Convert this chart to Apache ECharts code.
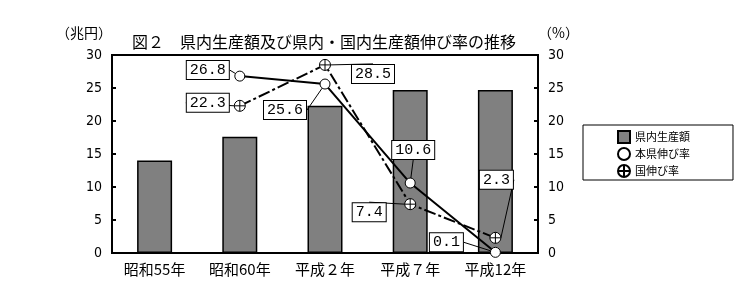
<!DOCTYPE html>
<html><head><meta charset="utf-8">
<script src="https://cdn.jsdelivr.net/npm/echarts@6/dist/echarts.min.js"></script>
<style>html,body{margin:0;padding:0;background:#fff}#c{width:741px;height:302px}</style>
</head><body><div id="c"></div>
<script>
const categories = ['昭和55年', '昭和60年', '平成２年', '平成７年', '平成12年'];
const prefOutput = [14.0, 17.6, 22.3, 24.7, 24.7];
const prefGrowth = ['-', 26.8, 25.6, 10.6, 0.1];
const nationGrowth = ['-', 22.3, 28.5, 7.4, 2.3];
const yTicks = {min: 0, max: 30, interval: 5};

// callout label displacements (style only)
const prefLabelShift = [[0,0], [-32,-6], [-40,26], [3,-33], [-49,-10]];
const nationLabelShift = [[0,0], [-32,-3], [48,9], [-41,8], [1,-58]];

const JP = 'Noto Sans CJK JP';
const cross = 'path://M1,10a9,9 0 1,0 18,0a9,9 0 1,0 -18,0zM10,1L10,19M1,10L19,10';

const calloutLabel = {
  show: true, position: 'inside',
  formatter: p => Number(p.value).toFixed(1),
  fontFamily: 'Liberation Mono', fontSize: 15, color: '#000',
  backgroundColor: '#fff', borderColor: '#000', borderWidth: 1,
  padding: [2, 3, 1, 3]
};
const calloutLine = {show: true, lineStyle: {color: '#000', width: 1}};

const chart = echarts.init(document.getElementById('c'));
chart.setOption({
  animation: false,
  title: {
    text: '図２　県内生産額及び県内・国内生産額伸び率の推移',
    left: 127, top: 29,
    textStyle: {fontFamily: JP, fontSize: 16, fontWeight: 'normal', color: '#000'}
  },
  legend: {
    orient: 'vertical', left: 583, top: 125,
    padding: [5, 43, 2, 34], itemGap: 3,
    itemWidth: 12, itemHeight: 12,
    borderColor: '#000', borderWidth: 1,
    textStyle: {fontFamily: JP, fontSize: 11, color: '#000', lineHeight: 13},
    data: [
      {name: '県内生産額', icon: 'rect'},
      {name: '本県伸び率', icon: 'circle'},
      {name: '国伸び率', icon: cross}
    ]
  },
  grid: {left: 112, right: 203, top: 55, bottom: 49, show: true, borderColor: '#000', borderWidth: 2},
  xAxis: {
    type: 'category', data: categories,
    axisLine: {lineStyle: {color: '#000', width: 2}},
    axisTick: {inside: true, length: 4, lineStyle: {color: '#000', width: 2}},
    axisLabel: {fontFamily: JP, fontSize: 15, color: '#000', margin: 9}
  },
  yAxis: [
    {
      type: 'value', ...yTicks, name: '（兆円）', nameLocation: 'end', nameGap: 15,
      nameTextStyle: {fontFamily: JP, fontSize: 14, color: '#000', align: 'right', padding: [0, 0, 0, 0]},
      axisLine: {show: true, lineStyle: {color: '#000', width: 2}},
      axisTick: {show: true, inside: true, length: 4, lineStyle: {color: '#000', width: 2}},
      axisLabel: {fontFamily: 'Liberation Sans Narrow, DejaVu Sans Condensed, sans-serif', fontSize: 14, color: '#000', margin: 10},
      splitLine: {show: false}
    },
    {
      type: 'value', ...yTicks, name: '（%）', nameLocation: 'end', nameGap: 15,
      nameTextStyle: {fontFamily: JP, fontSize: 14, color: '#000', align: 'left', padding: [0, 0, 0, 0]},
      axisLine: {show: true, lineStyle: {color: '#000', width: 2}},
      axisTick: {show: true, inside: true, length: 4, lineStyle: {color: '#000', width: 2}},
      axisLabel: {fontFamily: 'Liberation Sans Narrow, DejaVu Sans Condensed, sans-serif', fontSize: 14, color: '#000', margin: 10},
      splitLine: {show: false}
    }
  ],
  series: [
    {
      name: '県内生産額', type: 'bar', data: prefOutput, yAxisIndex: 0,
      barWidth: 35,
      itemStyle: {color: '#808080', borderColor: '#000', borderWidth: 1.5}
    },
    {
      name: '本県伸び率', type: 'line', data: prefGrowth, yAxisIndex: 1,
      symbol: 'circle', symbolSize: 10, showAllSymbol: true,
      itemStyle: {color: '#fff', borderColor: '#000', borderWidth: 1},
      lineStyle: {color: '#000', width: 2},
      label: calloutLabel, labelLine: calloutLine,
      labelLayout: p => ({dx: prefLabelShift[p.dataIndex][0], dy: prefLabelShift[p.dataIndex][1], hideOverlap: false}),
      z: 3
    },
    {
      name: '国伸び率', type: 'line', data: nationGrowth, yAxisIndex: 1,
      symbol: cross, symbolSize: 11, showAllSymbol: true,
      itemStyle: {color: '#fff', borderColor: '#000', borderWidth: 1},
      lineStyle: {color: '#000', width: 2, type: [12, 3, 3, 3]},
      label: calloutLabel, labelLine: calloutLine,
      labelLayout: p => ({dx: nationLabelShift[p.dataIndex][0], dy: nationLabelShift[p.dataIndex][1], hideOverlap: false}),
      z: 4
    }
  ]
});
</script></body></html>
